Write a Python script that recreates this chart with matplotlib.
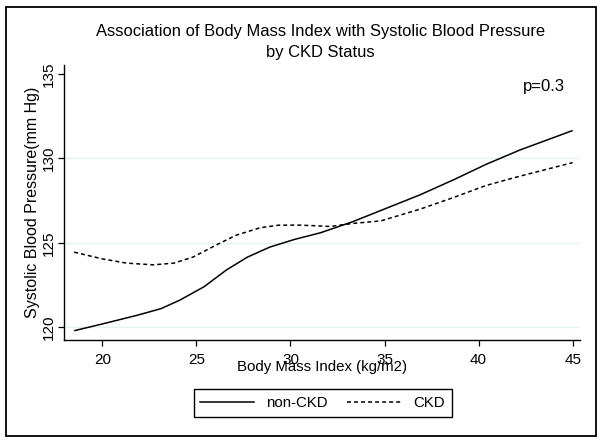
import matplotlib
matplotlib.use("Agg")
import matplotlib.pyplot as plt
from matplotlib.patches import Rectangle
from matplotlib.lines import Line2D

plt.rcParams['font.family'] = ['Liberation Sans', 'DejaVu Sans']

# ---- data ----
noncdk_bmi = [18.5, 20.0, 21.8, 23.1, 24.1, 25.4, 26.6, 27.7, 28.9, 30.2,
              31.6, 33.3, 35.1, 36.9, 38.7, 40.4, 42.2, 45.0]
noncdk_sbp = [119.8, 120.2, 120.7, 121.1, 121.6, 122.4, 123.4, 124.15, 124.75, 125.2,
              125.6, 126.25, 127.05, 127.85, 128.75, 129.65, 130.5, 131.65]

ckd_bmi = [18.5, 20.0, 21.3, 22.7, 23.8, 24.8, 26.1, 27.1, 28.4, 29.4,
           30.5, 31.6, 32.1, 33.3, 34.8, 36.9, 38.7, 40.4, 42.2, 45.0]
ckd_sbp = [124.45, 124.05, 123.8, 123.7, 123.8, 124.15, 124.9, 125.45, 125.9, 126.05,
           126.05, 126.0, 125.97, 126.15, 126.3, 127.0, 127.7, 128.4, 128.95, 129.75]

x_ticks = [20, 25, 30, 35, 40, 45]
y_ticks = [120, 125, 130, 135]

title = "Association of Body Mass Index with Systolic Blood Pressure\nby CKD Status"
x_label = "Body Mass Index (kg/m2)"
y_label = "Systolic Blood Pressure(mm Hg)"
series_labels = ["non-CKD", "CKD"]
annotation = "p=0.3"

W, H = 602, 442
fig = plt.figure(figsize=(W / 100, H / 100), dpi=100)
ax = fig.add_axes([64 / W, 1 - 340 / H, (580 - 64) / W, (340 - 65) / H])

DASH = (0, (2.6, 2.0))
ax.plot(noncdk_bmi, noncdk_sbp, color='black', lw=1.1, solid_capstyle='butt')
ax.plot(ckd_bmi, ckd_sbp, color='black', lw=1.1, linestyle=DASH)

ax.set_xlim(17.96, 45.39)
ax.set_ylim(119.25, 135.53)
ax.set_xticks(x_ticks)
ax.set_yticks(y_ticks)
ax.set_xticklabels([str(t) for t in x_ticks], fontsize=11)
ax.set_yticklabels([str(t) for t in y_ticks], fontsize=11, rotation=90, va='center')
ax.tick_params(axis='both', direction='out', length=4, width=0.9, colors='black', pad=2)
ax.tick_params(axis='x', pad=5)

for s in ['top', 'right']:
    ax.spines[s].set_visible(False)
for s in ['left', 'bottom']:
    ax.spines[s].set_linewidth(1.0)

ax.yaxis.grid(True, color='#e8f1f2', lw=1.0)
ax.set_axisbelow(True)
for gl, t in zip(ax.get_ygridlines(), y_ticks):
    if t == 135:
        gl.set_visible(False)

ax.set_xlabel(x_label, fontsize=10.8, labelpad=-5)
ax.set_ylabel(y_label, fontsize=11.5, labelpad=1)

fig.text(320.5 / W, 1 - 42 / H, title, ha='center', va='center', fontsize=11.9,
         linespacing=1.5)
ax.text(544 / W, 1 - 87 / H, annotation, transform=fig.transFigure,
        ha='center', va='center', fontsize=12)

handles = [Line2D([], [], color='black', lw=1.1),
           Line2D([], [], color='black', lw=1.1, linestyle=DASH)]
leg = fig.legend(handles, series_labels, loc='center', ncol=2,
                 bbox_to_anchor=(322.7 / W, 1 - 402.8 / H), fontsize=10.8,
                 frameon=True, fancybox=False, edgecolor='black', framealpha=1,
                 handlelength=3.6, handletextpad=0.8, columnspacing=1.3,
                 borderpad=0.45, borderaxespad=0)
leg.get_frame().set_linewidth(1.0)

fig.patches.append(Rectangle((6 / W, 1 - 436 / H), (596 - 6) / W, (436 - 7) / H,
                             transform=fig.transFigure, fill=False,
                             edgecolor='black', lw=1.3))

fig.savefig('out.png', dpi=100, facecolor='white')
